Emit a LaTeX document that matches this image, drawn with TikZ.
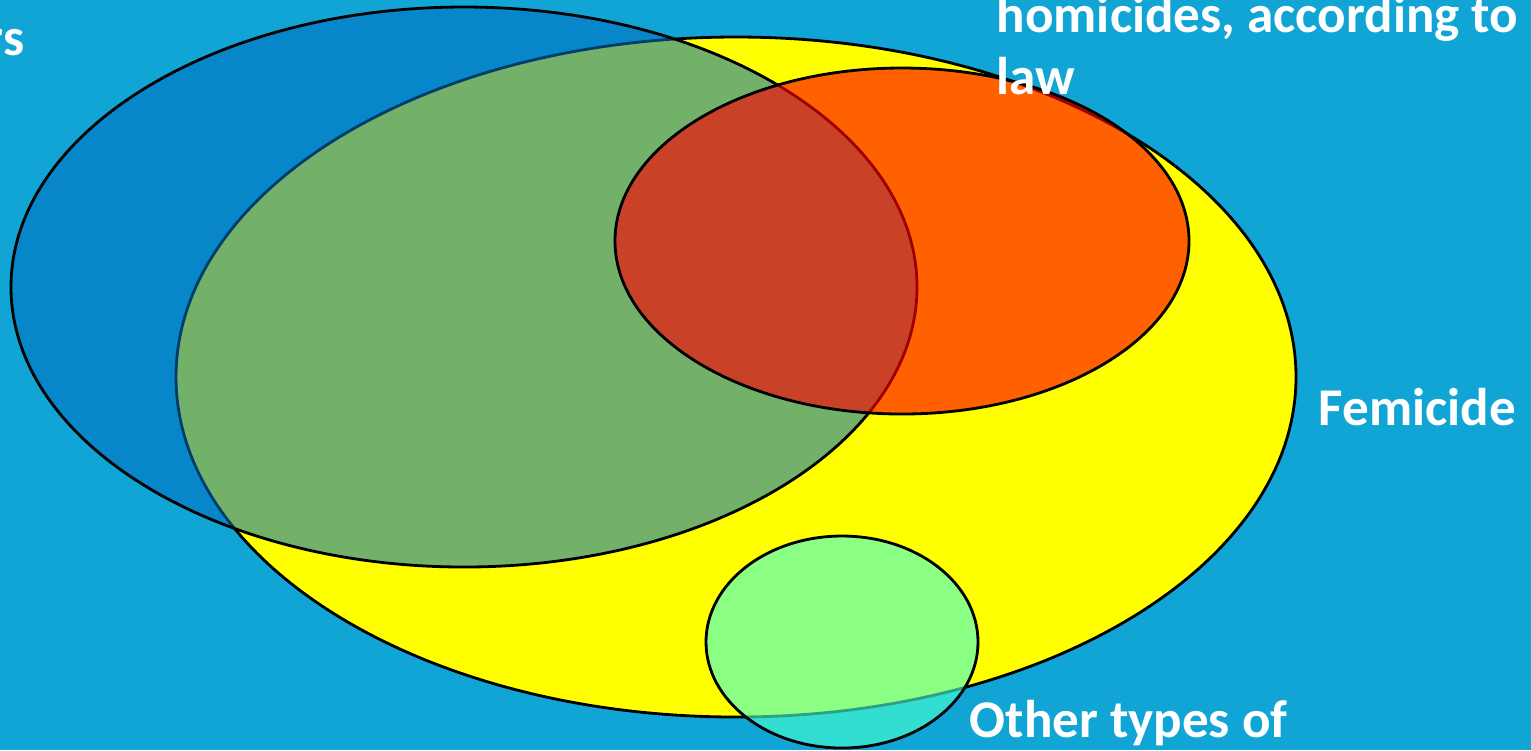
\documentclass[tikz,border=0pt]{standalone}
\usepackage{fontspec}
\setmainfont{Carlito}
\definecolor{bgblue}{RGB}{17,165,214}
\definecolor{setblue}{RGB}{0,112,192}
\definecolor{setyellow}{RGB}{255,255,0}
\definecolor{setred}{RGB}{255,0,0}
\definecolor{setgreen}{RGB}{70,255,208}
\begin{document}
\begin{tikzpicture}[x=0.01cm, y=-0.01cm,
        venn/.style={draw=black, line width=0.8pt},
        lbl/.style={text=white, inner sep=0pt, anchor=base west,
            font=\fontsize{15.1}{17.6}\selectfont\bfseries}]
            \fill[bgblue] (0,0) rectangle (1531,750);
            \useasboundingbox (0,0) rectangle (1531,750);

            \filldraw[venn, fill=setyellow] (736,377) ellipse [x radius=560, y radius=340];
            \filldraw[venn, fill=setblue, fill opacity=0.55] (464,287) ellipse [x radius=453, y radius=280];
            \filldraw[venn, fill=setred, fill opacity=0.62] (902,241) ellipse [x radius=287, y radius=173];
            \filldraw[venn, fill=setgreen, fill opacity=0.63] (842,642) ellipse [x radius=136, y radius=106];

            \node[lbl, anchor=base east] (perp) at (25,55) {rs};
            \node[lbl] (homlaw) at (996,32) {homicides, according to};
            \node[lbl] (law) at (996,94) {law};
            \node[lbl] (femicide) at (1318,425) {Femicide};
            \node[lbl] (other) at (969,737) {Other types of};
        \end{tikzpicture}
\end{document}
